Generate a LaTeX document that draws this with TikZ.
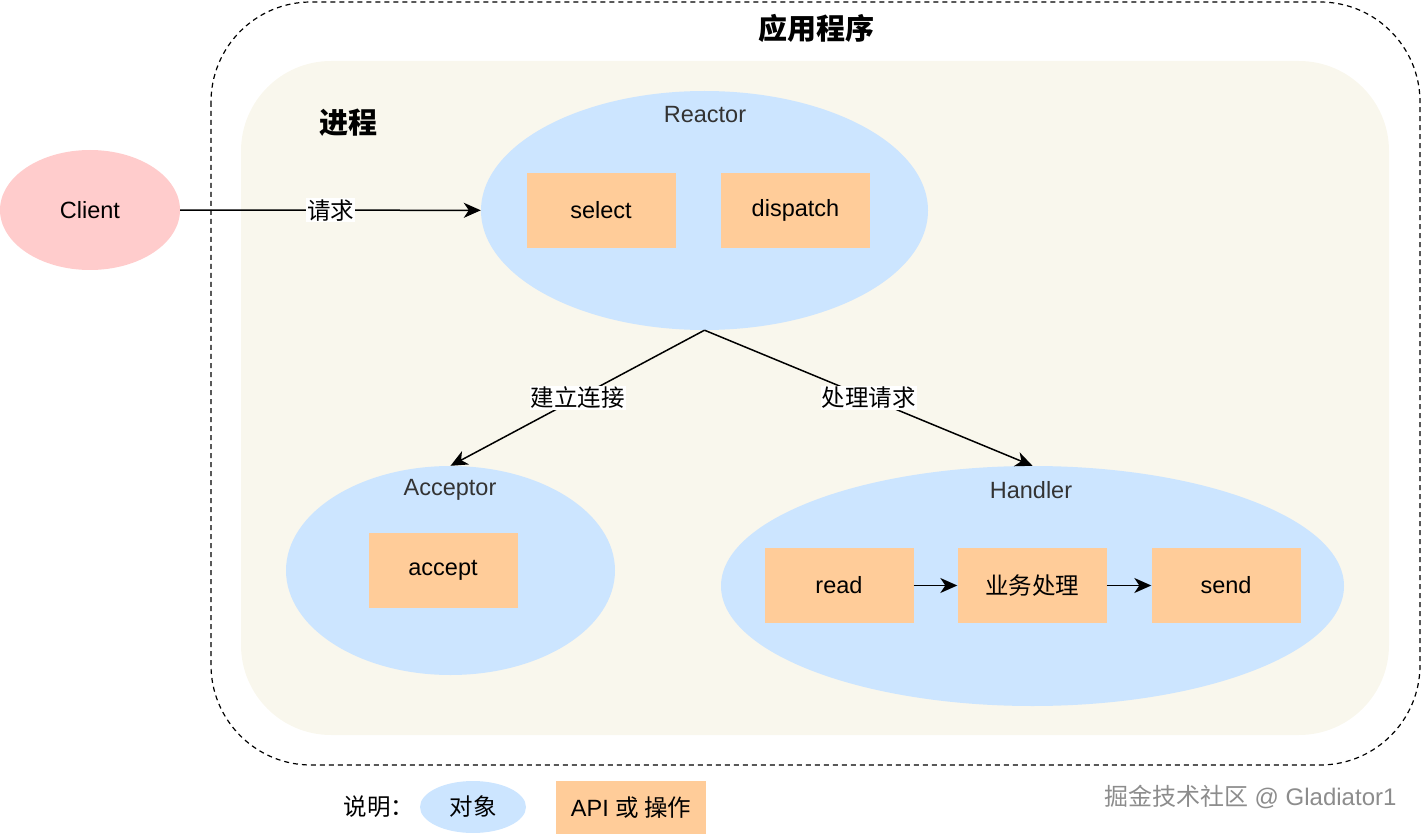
\documentclass[tikz,border=0pt]{standalone}
\usepackage{fontspec}
\setmainfont{Liberation Sans}
\newfontfamily\cjk{Noto Sans CJK SC}
\usepackage{tikz}
\usetikzlibrary{arrows.meta}
\usetikzlibrary{shapes.geometric}
\definecolor{objblue}{HTML}{CCE5FF}
\definecolor{apiorange}{HTML}{FFCC99}
\definecolor{clientpink}{HTML}{FFCCCC}
\definecolor{procbeige}{HTML}{F9F7ED}
\definecolor{namegray}{HTML}{333333}

\begin{document}
\begin{tikzpicture}[x=1pt,y=-1pt,
    font=\fontsize{23.5}{28}\selectfont,
    obj/.style={ellipse,fill=objblue,inner sep=0pt},
    api/.style={rectangle,fill=apiorange,minimum width=149pt,minimum height=75pt,inner sep=0pt},
    objname/.style={text=namegray},
    link/.style={line width=1.5pt,-{Stealth[length=17pt,width=15pt,inset=5pt]}},
    tag/.style={fill=white,inner sep=1pt}]
    \useasboundingbox (0,0) rectangle (1427,834);
    \draw[line width=1.2pt,dash pattern=on 5pt off 4pt,rounded corners=100pt] (211,2) rectangle (1420,765);
    \fill[procbeige,rounded corners=90pt] (241,61) rectangle (1389,735);
    \node[font=\cjk\bfseries\fontsize{29}{34}\selectfont] (apptitle) at (816,28) {应用程序};
    \node[font=\cjk\bfseries\fontsize{29}{34}\selectfont] (proctitle) at (348,123) {进程};

    \node[ellipse,fill=clientpink,minimum width=180pt,minimum height=120pt] (client) at (90,210) {Client};

    \node[obj,minimum width=447pt,minimum height=239pt] (reactor) at (704.5,210.5) {};
    \node[objname] (reactorname) at (705,115) {Reactor};
    \node[api] (select) at (601,210.5) {select};
    \node[api] (dispatch) at (795.5,210.5) {dispatch};

    \node[obj,minimum width=329pt,minimum height=209pt] (acceptor) at (450.5,570.5) {};
    \node[objname] (acceptorname) at (450,490) {Acceptor};
    \node[api] (accept) at (443,570.5) {accept};

    \node[obj,minimum width=623pt,minimum height=240pt] (handler) at (1032.5,586) {};
    \node[objname] (handlername) at (1031,490) {Handler};
    \node[api] (read) at (839,585.5) {read};
    \node[api] (work) at (1032,585.5) {\cjk 业务处理};
    \node[api] (send) at (1226,585.5) {send};

    \draw[link] (client) -- node[tag] {\cjk 请求} (reactor);
    \draw[link] (reactor.south) -- node[tag] {\cjk 建立连接} (acceptor.north);
    \draw[link] (reactor.south) -- node[tag] {\cjk 处理请求} (handler.north);
    \draw[link] (read) -- (work);
    \draw[link] (work) -- (send);

    \node[anchor=west] (legendnote) at (340,807) {\cjk 说明：};
    \node[obj,minimum width=106pt,minimum height=52pt] (legendobj) at (473,807) {\cjk 对象};
    \node[api,minimum width=150pt,minimum height=53pt] (legendapi) at (631,807.5) {API {\cjk 或 操作}};
    \node[anchor=east,text=black!45,font=\fontsize{24}{28}\selectfont] (watermark) at (1400,797) {{\cjk 掘金技术社区} @ Gladiator1};
\end{tikzpicture}
\end{document}
